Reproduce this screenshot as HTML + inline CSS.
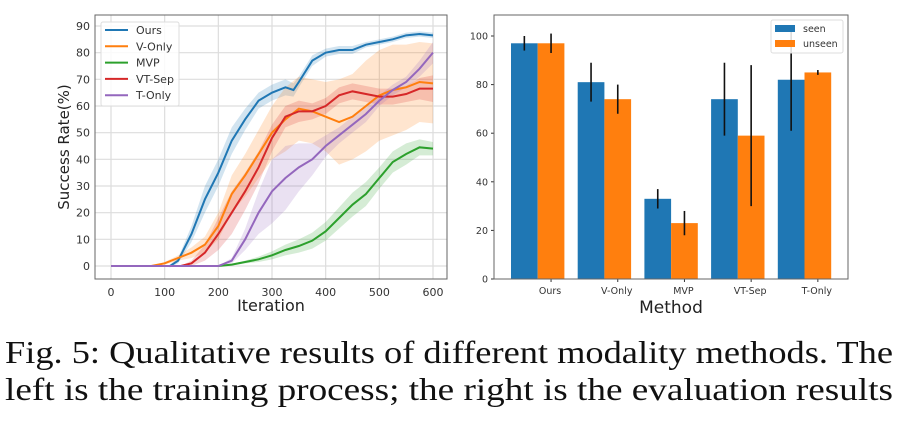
<!DOCTYPE html>
<html><head><meta charset="utf-8"><style>
body{margin:0;background:#fff;width:897px;height:430px;overflow:hidden}
svg{display:block}
</style></head><body>
<svg id="fig" width="897" height="430" font-family="'DejaVu Sans','Liberation Sans',sans-serif">
<g id="left"></g>
<g id="right"></g>
<text x="5" y="363" font-family="'Liberation Serif',serif" font-size="32" textLength="888" lengthAdjust="spacingAndGlyphs" fill="#111">Fig. 5: Qualitative results of different modality methods. The</text>
<text x="5" y="400" font-family="'Liberation Serif',serif" font-size="32" textLength="888" lengthAdjust="spacingAndGlyphs" fill="#111">left is the training process; the right is the evaluation results</text>
</svg>
<script>
// ---- left chart data ----
const iterOurs=[0,100,110,125,150,175,200,225,250,275,300,325,340,350,375,400,425,450,475,500,525,550,575,600];
const valOurs=[0,0,0,2,12,25,35,47,55,62,65,67,66,69,77,80,81,81,83,84,85,86.5,87,86.5];
const sdOurs=[0,0,0.5,1,3,5,5,5,4,3,3,3,2.5,2,2,1.5,1.5,1.5,1,1,1,1,1,1];
const iterV=[0,75,100,125,150,175,200,225,250,275,300,325,350,375,400,425,450,475,500,525,550,575,600];
const valV=[0,0,1,3,5,8,15,27,34,42,50,55,59,58,56,54,56,60,64,66,67,69,68.5];
const sdV=[0,0,0.5,1,2,3,5,7,8,9,10,12,12,12,13,16,16,17,17,17,16,15,15];
const iterMVP=[0,200,225,250,275,300,325,350,375,400,425,450,475,500,525,550,575,600];
const valMVP=[0,0,0.5,1.5,2.5,4,6,7.5,9.5,13,18,23,27,33,39,42,44.5,44];
const sdMVP=[0,0,0.3,0.5,1,1.5,2,2.5,3,3.5,4,4.5,4.5,4,4,4,3,2.5];
const iterVT=[0,130,150,175,200,225,250,275,300,325,350,375,400,425,450,475,500,525,550,575,600];
const valVT=[0,0,1,5,12,20,28,37,48,56,58,58,60,64,65.5,64.5,63.5,63.5,64.5,66.5,66.5];
const sdVT=[0,0,1,3,6,8,7,6,5,4,4,3,3,3,3,3,3,3,3,4,5];
const iterT=[0,200,225,250,275,300,325,350,375,400,425,450,475,500,525,550,575,600];
const valT=[0,0,2,10,20,28,33,37,40,45,49,53,57,62,66,69,74,80];
const sdT=[0,0,1,4,8,12,12,9,6,4,3,3,3,2,2,2,3,4];
const xTicks=[0,100,200,300,400,500,600];
const yTicks=[0,10,20,30,40,50,60,70,80,90];
// ---- right chart data ----
const methods=["Ours","V-Only","MVP","VT-Sep","T-Only"];
const seen=[97,81,33,74,82];
const seenErr=[3,8,4,15,21];
const unseen=[97,74,23,59,85];
const unseenErr=[4,6,5,29,1];
const barTicks=[0,20,40,60,80,100];

const NS="http://www.w3.org/2000/svg";
function mk(parent,tag,attrs,text){const e=document.createElementNS(NS,tag);for(const k in attrs)e.setAttribute(k,attrs[k]);if(text!==undefined)e.textContent=text;parent.appendChild(e);return e;}

// Left chart
const L=document.getElementById('left');
const lx=v=>111+(v/600)*322, ly=v=>266-(v/90)*240;
for(const t of xTicks){const g=mk(L,'line',{x1:lx(t),x2:lx(t),y1:15,y2:279,stroke:'#ddd','stroke-width':1.2});

const tl=mk(L,'text',{x:lx(t),y:296,'font-size':11,'text-anchor':'middle',fill:'#333'},t);
}
for(const t of yTicks){const g=mk(L,'line',{x1:95,x2:447,y1:ly(t),y2:ly(t),stroke:'#ddd','stroke-width':1.2});

const tl=mk(L,'text',{x:90,y:ly(t)+4,'font-size':11,'text-anchor':'end',fill:'#333'},t);
}
const series=[
 {n:'Ours',x:iterOurs,y:valOurs,s:sdOurs,c:'#1f77b4'},
 {n:'V-Only',x:iterV,y:valV,s:sdV,c:'#ff7f0e'},
 {n:'MVP',x:iterMVP,y:valMVP,s:sdMVP,c:'#2ca02c'},
 {n:'VT-Sep',x:iterVT,y:valVT,s:sdVT,c:'#d62728'},
 {n:'T-Only',x:iterT,y:valT,s:sdT,c:'#9467bd'}];
for(const s of series){
 let up=s.x.map((x,i)=>lx(x)+','+ly(s.y[i]+s.s[i]));
 let dn=s.x.map((x,i)=>lx(x)+','+ly(s.y[i]-s.s[i])).reverse();
 const b=mk(L,'polygon',{points:up.concat(dn).join(' '),fill:s.c,'fill-opacity':0.2});
 
}
for(const s of series){
 const p=mk(L,'polyline',{points:s.x.map((x,i)=>lx(x)+','+ly(s.y[i])).join(' '),fill:'none',stroke:s.c,'stroke-width':2});
 
}
const fr=mk(L,'rect',{x:95,y:15,width:352,height:264,fill:'none',stroke:'#666','stroke-width':1});

const lg=mk(L,'g',{});
mk(lg,'rect',{x:101,y:22,width:78,height:84,fill:'#fff','fill-opacity':0.85,stroke:'#ddd',rx:2});
series.forEach((s,i)=>{const y=30+i*16.3;
 mk(lg,'line',{x1:105,x2:128,y1:y,y2:y,stroke:s.c,'stroke-width':2});
 const t=mk(lg,'text',{x:136,y:y+4,'font-size':11,fill:'#333'},s.n);
 });
const yt=mk(L,'text',{x:0,y:0,'font-size':15,'text-anchor':'middle',fill:'#222',transform:'translate(69,147) rotate(-90)'},'Success Rate(%)');

const xt=mk(L,'text',{x:271,y:311,'font-size':16,'text-anchor':'middle',fill:'#222'},'Iteration');


// Right chart
const R=document.getElementById('right');
const ry=v=>279-(v/100)*243, gx=i=>537.7+i*66.7, bw=26.7;
for(const t of barTicks){
 const tk=mk(R,'line',{x1:491,x2:494,y1:ry(t),y2:ry(t),stroke:'#333'});
 
 const tl=mk(R,'text',{x:488,y:ry(t)+3.5,'font-size':9.5,'text-anchor':'end',fill:'#333'},t);
 }
methods.forEach((m,i)=>{
 const c=gx(i);
 const b1=mk(R,'rect',{x:c-bw,y:ry(seen[i]),width:bw,height:279-ry(seen[i]),fill:'#1f77b4'});
 
 const b2=mk(R,'rect',{x:c,y:ry(unseen[i]),width:bw,height:279-ry(unseen[i]),fill:'#ff7f0e'});
 
 const e1=mk(R,'line',{x1:c-bw/2,x2:c-bw/2,y1:ry(seen[i]+seenErr[i]),y2:ry(seen[i]-seenErr[i]),stroke:'#111','stroke-width':1.6});
 
 const e2=mk(R,'line',{x1:c+bw/2,x2:c+bw/2,y1:ry(unseen[i]+unseenErr[i]),y2:ry(unseen[i]-unseenErr[i]),stroke:'#111','stroke-width':1.6});
 
 const tk=mk(R,'line',{x1:c+bw/2,x2:c+bw/2,y1:279,y2:282,stroke:'#333'});
 
 const tl=mk(R,'text',{x:c+bw/2-1,y:294,'font-size':9.5,'text-anchor':'middle',fill:'#333'},m);
 
});
const rf=mk(R,'rect',{x:494,y:15,width:354,height:264,fill:'none',stroke:'#666','stroke-width':1});

const rl=mk(R,'g',{});
mk(rl,'rect',{x:771,y:20,width:72,height:33,fill:'#fff','fill-opacity':0.85,stroke:'#ddd',rx:2});
mk(rl,'rect',{x:775,y:25,width:20,height:7,fill:'#1f77b4'});
const s1=mk(rl,'text',{x:803,y:32,'font-size':9.5,fill:'#333'},'seen');

mk(rl,'rect',{x:775,y:40,width:20,height:7,fill:'#ff7f0e'});
const s2=mk(rl,'text',{x:803,y:47,'font-size':9.5,fill:'#333'},'unseen');

const mt=mk(R,'text',{x:671,y:313,'font-size':17,'text-anchor':'middle',fill:'#222'},'Method');

</script>
</body></html>
